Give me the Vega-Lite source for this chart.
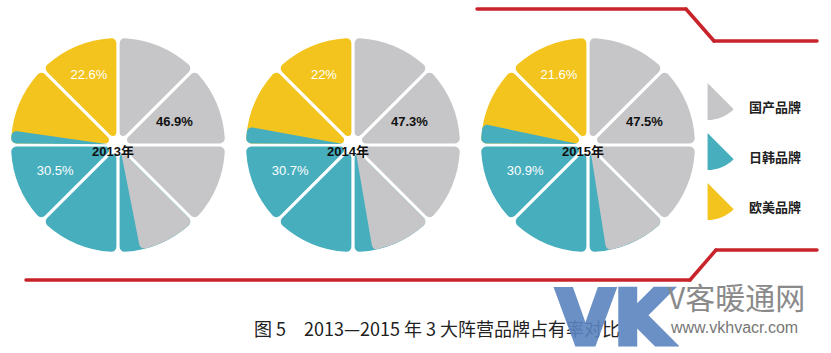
{
  "$schema": "https://vega.github.io/schema/vega-lite/v6.json",
  "width": 831,
  "height": 353,
  "autosize": {"type": "none"},
  "padding": 0,
  "background": "white",
  "config": {"view": {"stroke": null}},
  "datasets": {
    "shares": [
      {"year": "2013", "brand": "国产品牌", "share": 46.9},
      {"year": "2013", "brand": "日韩品牌", "share": 30.5},
      {"year": "2013", "brand": "欧美品牌", "share": 22.6},
      {"year": "2014", "brand": "国产品牌", "share": 47.3},
      {"year": "2014", "brand": "日韩品牌", "share": 30.7},
      {"year": "2014", "brand": "欧美品牌", "share": 22},
      {"year": "2015", "brand": "国产品牌", "share": 47.5},
      {"year": "2015", "brand": "日韩品牌", "share": 30.9},
      {"year": "2015", "brand": "欧美品牌", "share": 21.6}
    ],
    "sectors": [
      {"year": "2013", "brand": "国产品牌", "t0": 0, "t1": 12.5},
      {"year": "2013", "brand": "国产品牌", "t0": 12.5, "t1": 25},
      {"year": "2013", "brand": "国产品牌", "t0": 25, "t1": 37.5},
      {"year": "2013", "brand": "日韩品牌", "t0": 37.5, "t1": 50},
      {"year": "2013", "brand": "日韩品牌", "t0": 50, "t1": 62.5},
      {"year": "2013", "brand": "日韩品牌", "t0": 62.5, "t1": 75},
      {"year": "2013", "brand": "欧美品牌", "t0": 75, "t1": 87.5},
      {"year": "2013", "brand": "欧美品牌", "t0": 87.5, "t1": 100},
      {"year": "2014", "brand": "国产品牌", "t0": 0, "t1": 12.5},
      {"year": "2014", "brand": "国产品牌", "t0": 12.5, "t1": 25},
      {"year": "2014", "brand": "国产品牌", "t0": 25, "t1": 37.5},
      {"year": "2014", "brand": "日韩品牌", "t0": 37.5, "t1": 50},
      {"year": "2014", "brand": "日韩品牌", "t0": 50, "t1": 62.5},
      {"year": "2014", "brand": "日韩品牌", "t0": 62.5, "t1": 75},
      {"year": "2014", "brand": "欧美品牌", "t0": 75, "t1": 87.5},
      {"year": "2014", "brand": "欧美品牌", "t0": 87.5, "t1": 100},
      {"year": "2015", "brand": "国产品牌", "t0": 0, "t1": 12.5},
      {"year": "2015", "brand": "国产品牌", "t0": 12.5, "t1": 25},
      {"year": "2015", "brand": "国产品牌", "t0": 25, "t1": 37.5},
      {"year": "2015", "brand": "日韩品牌", "t0": 37.5, "t1": 50},
      {"year": "2015", "brand": "日韩品牌", "t0": 50, "t1": 62.5},
      {"year": "2015", "brand": "日韩品牌", "t0": 62.5, "t1": 75},
      {"year": "2015", "brand": "欧美品牌", "t0": 75, "t1": 87.5},
      {"year": "2015", "brand": "欧美品牌", "t0": 87.5, "t1": 100}
    ],
    "splits": [
      {"year": "2013", "brand": "国产品牌", "t0": 37.5, "t1": 46.9},
      {"year": "2013", "brand": "日韩品牌", "t0": 75, "t1": 77.4},
      {"year": "2014", "brand": "国产品牌", "t0": 37.5, "t1": 47.3},
      {"year": "2014", "brand": "日韩品牌", "t0": 75, "t1": 78.0},
      {"year": "2015", "brand": "国产品牌", "t0": 37.5, "t1": 47.5},
      {"year": "2015", "brand": "日韩品牌", "t0": 75, "t1": 78.4}
    ],
    "years": [
      {"year": "2013", "label": "2013年"},
      {"year": "2014", "label": "2014年"},
      {"year": "2015", "label": "2015年"}
    ]
  },
  "layer": [
    {"data": {"values": [{}]}, "mark": {"type": "rule", "color": "#c8232b", "strokeWidth": 3.5, "strokeCap": "round"},
     "encoding": {"x": {"value": 477}, "y": {"value": 9}, "x2": {"value": 686}, "y2": {"value": 9}}},
    {"data": {"values": [{}]}, "mark": {"type": "rule", "color": "#c8232b", "strokeWidth": 3.5, "strokeCap": "round"},
     "encoding": {"x": {"value": 686}, "y": {"value": 9}, "x2": {"value": 714}, "y2": {"value": 41}}},
    {"data": {"values": [{}]}, "mark": {"type": "rule", "color": "#c8232b", "strokeWidth": 3.5, "strokeCap": "round"},
     "encoding": {"x": {"value": 714}, "y": {"value": 41}, "x2": {"value": 817}, "y2": {"value": 41}}},
    {"data": {"values": [{}]}, "mark": {"type": "rule", "color": "#c8232b", "strokeWidth": 3.5, "strokeCap": "round"},
     "encoding": {"x": {"value": 26}, "y": {"value": 280}, "x2": {"value": 690}, "y2": {"value": 280}}},
    {"data": {"values": [{}]}, "mark": {"type": "rule", "color": "#c8232b", "strokeWidth": 3.5, "strokeCap": "round"},
     "encoding": {"x": {"value": 690}, "y": {"value": 280}, "x2": {"value": 716}, "y2": {"value": 250}}},
    {"data": {"values": [{}]}, "mark": {"type": "rule", "color": "#c8232b", "strokeWidth": 3.5, "strokeCap": "round"},
     "encoding": {"x": {"value": 716}, "y": {"value": 250}, "x2": {"value": 817}, "y2": {"value": 250}}},
    {
      "data": {"name": "sectors"},
      "mark": {"type": "arc", "outerRadius": 107, "innerRadius": 10, "padAngle": 0.03, "cornerRadius": 5},
      "encoding": {
        "x": {"field": "year", "type": "ordinal", "axis": null, "scale": {"type": "point", "domain": ["2013", "2014", "2015"], "range": [118, 588], "padding": 0}},
        "y": {"value": 145},
        "theta": {"field": "t0", "type": "quantitative", "stack": null, "scale": {"domain": [0, 100]}},
        "theta2": {"field": "t1"},
        "color": {"field": "brand", "type": "nominal",
          "scale": {"domain": ["国产品牌", "日韩品牌", "欧美品牌"], "range": ["#c6c6c8", "#47aebe", "#f3c41d"]},
          "legend": {"orient": "none", "legendX": 702, "legendY": 83, "title": null,
            "symbolType": "M-0.7,-1L0.714,0.414A2,2,0,0,1,-0.7,1Z", "symbolSize": 1369, "symbolStrokeWidth": 0, "symbolOpacity": 1,
            "labelFont": "Noto Sans CJK SC", "labelFontSize": 13, "labelFontWeight": "bold", "labelColor": "#222222",
            "labelOffset": 10, "rowPadding": 13, "padding": 0, "labelBaseline": "top"}
        }
      }
    },
    {
      "data": {"name": "splits"},
      "mark": {"type": "arc", "outerRadius": 107, "innerRadius": 10, "padAngle": 0.03, "cornerRadius": 5},
      "encoding": {
        "x": {"field": "year", "type": "ordinal"},
        "y": {"value": 145},
        "theta": {"field": "t0", "type": "quantitative", "stack": null},
        "theta2": {"field": "t1"},
        "color": {"field": "brand", "type": "nominal"}
      }
    },
    {
      "data": {"name": "shares"},
      "transform": [{"filter": "datum.brand === '国产品牌'"}, {"calculate": "datum.share + '%'", "as": "pct"}],
      "mark": {"type": "text", "font": "Liberation Sans", "fontSize": 13, "fontWeight": "bold", "color": "#111111", "align": "center", "baseline": "middle"},
      "encoding": {
        "x": {"field": "year", "type": "ordinal"},
        "y": {"value": 145},
        "theta": {"value": 1.1781},
        "radius": {"value": 61},
        "text": {"field": "pct"}
      }
    },
    {
      "data": {"name": "shares"},
      "transform": [{"filter": "datum.brand === '日韩品牌'"}, {"calculate": "datum.share + '%'", "as": "pct"}],
      "mark": {"type": "text", "font": "Liberation Sans", "fontSize": 13, "color": "#ffffff", "align": "center", "baseline": "middle"},
      "encoding": {
        "x": {"field": "year", "type": "ordinal"},
        "y": {"value": 145},
        "theta": {"value": 4.3197},
        "radius": {"value": 68},
        "text": {"field": "pct"}
      }
    },
    {
      "data": {"name": "shares"},
      "transform": [{"filter": "datum.brand === '欧美品牌'"}, {"calculate": "datum.share + '%'", "as": "pct"}],
      "mark": {"type": "text", "font": "Liberation Sans", "fontSize": 13, "color": "#ffffff", "align": "center", "baseline": "middle"},
      "encoding": {
        "x": {"field": "year", "type": "ordinal"},
        "y": {"value": 145},
        "theta": {"value": 5.8905},
        "radius": {"value": 76},
        "text": {"field": "pct"}
      }
    },
    {
      "data": {"name": "years"},
      "mark": {"type": "text", "font": "Liberation Sans, Noto Sans CJK SC", "fontSize": 13, "fontWeight": "bold", "color": "#111111", "align": "center", "baseline": "middle", "dx": -5},
      "encoding": {
        "x": {"field": "year", "type": "ordinal"},
        "y": {"value": 152},
        "text": {"field": "label"}
      }
    },
    {
      "data": {"values": [{"t": "图 5　2013—2015 年 3 大阵营品牌占有率对比"}]},
      "mark": {"type": "text", "font": "Noto Sans CJK SC", "fontSize": 18, "color": "#222222", "align": "center", "baseline": "middle"},
      "encoding": {"x": {"value": 437}, "y": {"value": 331}, "text": {"field": "t"}}
    },
    {
      "data": {"values": [{"t": "VK"}]},
      "mark": {"type": "text", "font": "DejaVu Sans", "fontSize": 74, "fontWeight": "bold", "color": "#5a84c0", "stroke": "#5a84c0", "strokeWidth": 5, "strokeJoin": "miter", "opacity": 0.9, "align": "center", "baseline": "alphabetic"},
      "encoding": {"x": {"value": 614}, "y": {"value": 344}, "text": {"field": "t"}}
    },
    {
      "data": {"values": [{"t": "V客暖通网"}]},
      "mark": {"type": "text", "font": "Noto Sans CJK SC", "fontSize": 30, "color": "#8a8a8a", "align": "left", "baseline": "middle"},
      "encoding": {"x": {"value": 668}, "y": {"value": 300}, "text": {"field": "t"}}
    },
    {
      "data": {"values": [{"t": "www.vkhvacr.com"}]},
      "mark": {"type": "text", "font": "Liberation Sans", "fontSize": 16, "color": "#777777", "align": "left", "baseline": "middle"},
      "encoding": {"x": {"value": 671}, "y": {"value": 328}, "text": {"field": "t"}}
    }
  ]
}
